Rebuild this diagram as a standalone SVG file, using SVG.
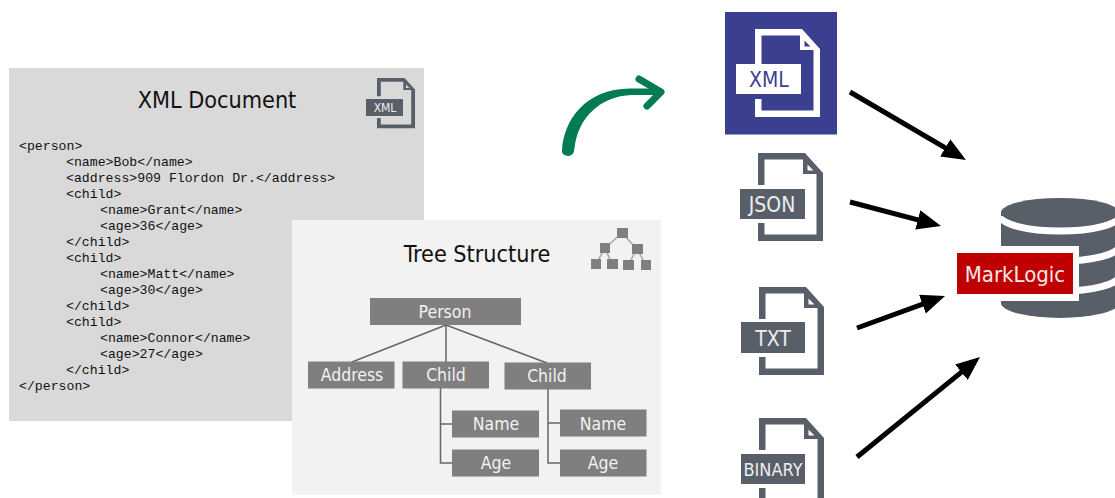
<svg xmlns="http://www.w3.org/2000/svg" width="1115" height="498" viewBox="0 0 1115 498">
<style>
text{font-family:"DejaVu Sans Condensed","DejaVu Sans",sans-serif;font-stretch:condensed}
.code{font-family:"Liberation Mono",monospace;font-size:13.2px;fill:#111;font-stretch:normal}
.title{font-size:23.200px;fill:#111;text-anchor:middle}
.box{fill:#7f7f7f}
.bl{font-size:17.500px;fill:#f2f2f2;text-anchor:middle}
.tl{fill:none;stroke:#666;stroke-width:1.5}
.ic{fill:#595f69}
.il{font-size:21px;fill:#eee;text-anchor:middle}
.ar{stroke:#000;stroke-width:5;fill:none;marker-end:url(#ah)}
.tq{fill:#7f7f7f}
.tb{stroke:#a6a6a6;stroke-width:1.5;fill:none}
</style>
<defs>
<marker id="ah" markerUnits="userSpaceOnUse" markerWidth="26" markerHeight="22" refX="12" refY="10" orient="auto"><path d="M0 0L24 10L0 20Z" fill="#000"/></marker>
<path id="doc" fill-rule="evenodd" d="M0 0H47L65 20V88H0V70H6.500V81.500H58.500V21H45V6.500H6.500V32H0ZM49.500 11.500V17.500H55.500Z"/>
</defs>
<g id="xml-document">
<rect x="9" y="68" width="415" height="353" fill="#d9d9d9"/>
<text class="title" x="217" y="108">XML Document</text>
<use href="#doc" class="ic" transform="translate(377 78) scale(.585 .57)"/>
<rect class="ic" x="366" y="99" width="37" height="17"/>
<text x="385" y="112" font-size="12" fill="#eee" text-anchor="middle">XML</text>
<text class="code" y="149.500"><tspan x="19">&lt;person&gt;</tspan><tspan x="66" y="165.500">&lt;name&gt;Bob&lt;/name&gt;</tspan><tspan x="66" y="181.500">&lt;address&gt;909 Flordon Dr.&lt;/address&gt;</tspan><tspan x="66" y="197.500">&lt;child&gt;</tspan><tspan x="100" y="213.500">&lt;name&gt;Grant&lt;/name&gt;</tspan><tspan x="100" y="229.500">&lt;age&gt;36&lt;/age&gt;</tspan><tspan x="66" y="245.500">&lt;/child&gt;</tspan><tspan x="66" y="261.500">&lt;child&gt;</tspan><tspan x="100" y="277.500">&lt;name&gt;Matt&lt;/name&gt;</tspan><tspan x="100" y="293.500">&lt;age&gt;30&lt;/age&gt;</tspan><tspan x="66" y="309.500">&lt;/child&gt;</tspan><tspan x="66" y="325.500">&lt;child&gt;</tspan><tspan x="100" y="341.500">&lt;name&gt;Connor&lt;/name&gt;</tspan><tspan x="100" y="357.500">&lt;age&gt;27&lt;/age&gt;</tspan><tspan x="66" y="373.500">&lt;/child&gt;</tspan><tspan x="19" y="389.500">&lt;/person&gt;</tspan></text>
</g>
<g id="tree-structure">
<rect x="292" y="220" width="369" height="275" fill="#f2f2f2"/>
<text class="title" x="477" y="262">Tree Structure</text>
<g id="tree-icon">
<path class="tb" d="M622 233L605 248M622 233L637 249M605 248L596 264M605 248L612 264M637 249L628 265M637 249L646 265"/>
<rect class="tq" x="617" y="228" width="11" height="10"/><rect class="tq" x="600" y="243" width="10" height="10"/><rect class="tq" x="632" y="244" width="11" height="10"/><rect class="tq" x="591" y="259" width="10" height="10"/><rect class="tq" x="607" y="259" width="11" height="10"/><rect class="tq" x="623" y="260" width="11" height="10"/><rect class="tq" x="641" y="260" width="10" height="10"/>
</g>
</g>
<g id="connectors">
<path class="tl" d="M446 325L352 362M446 325V362M446 325L547 363M440.500 388V463H452M440.500 424H452M548 389V463H560M548 423H560"/>
<path class="ar" d="M850 92L955.600 153.900"/>
<path class="ar" d="M850 202L929.400 222.900"/>
<path class="ar" d="M857 328L933.700 300.100"/>
<path class="ar" d="M857 457L970.700 364.600"/>
<path d="M562 150C564 120 585 89 630 88.500H655V95H632C600 96 578 118 574.500 148Q574 156 568 156Q561 155 562 150Z" fill="#047a55"/>
<path d="M639 79L661 92L647 106" fill="none" stroke="#047a55" stroke-width="7" stroke-linecap="round" stroke-linejoin="round"/>
</g>
<g id="n-person"><rect class="box" x="370" y="298" width="151" height="27"/><text class="bl" x="445" y="318">Person</text></g>
<g id="n-address"><rect class="box" x="308" y="361.500" width="86.500" height="27"/><text class="bl" x="352" y="381">Address</text></g>
<g id="n-child1"><rect class="box" x="402.500" y="361.500" width="86.500" height="27"/><text class="bl" x="446" y="381">Child</text></g>
<g id="n-child2"><rect class="box" x="504.500" y="362.500" width="86.500" height="27"/><text class="bl" x="547" y="382">Child</text></g>
<g id="n-name1"><rect class="box" x="452" y="410.500" width="87" height="27"/><text class="bl" x="496" y="430">Name</text></g>
<g id="n-age1"><rect class="box" x="452" y="449.500" width="87" height="27"/><text class="bl" x="496" y="469">Age</text></g>
<g id="n-name2"><rect class="box" x="560" y="409.500" width="86.500" height="27"/><text class="bl" x="603" y="430">Name</text></g>
<g id="n-age2"><rect class="box" x="560" y="449.500" width="86.500" height="27"/><text class="bl" x="603" y="469">Age</text></g>
<g id="n-xml">
<rect x="725" y="12" width="112" height="122.500" fill="#3a3f8f"/>
<use href="#doc" fill="#fff" transform="translate(755 29)"/>
<rect x="755" y="60" width="6.500" height="5" fill="#fff"/>
<rect x="736" y="64" width="65" height="30" fill="#fff"/>
<text x="769" y="87" font-size="21" fill="#3a3f8f" text-anchor="middle">XML</text>
</g>
<g id="n-json"><use href="#doc" class="ic" transform="translate(758 153)"/><rect class="ic" x="740" y="189" width="65" height="30"/><text class="il" x="772" y="212">JSON</text></g>
<g id="n-txt"><use href="#doc" class="ic" transform="translate(759 287)"/><rect class="ic" x="741" y="322" width="64" height="31"/><text x="773" y="346" font-size="21" fill="#eee" text-anchor="middle">TXT</text></g>
<g id="n-binary"><use href="#doc" class="ic" transform="translate(759 418)"/><rect class="ic" x="741" y="454" width="64" height="30"/><text x="773" y="476" font-size="18" fill="#eee" text-anchor="middle">BINARY</text></g>
<g id="n-marklogic">
<path class="ic" d="M1001 212V303A59 15 0 0 0 1119 303V212Z"/>
<path d="M1001 216A59 15 0 0 0 1119 216M1001 246A59 15 0 0 0 1119 246M1001 276A59 15 0 0 0 1119 276" fill="none" stroke="#fff" stroke-width="7"/>
<ellipse class="ic" cx="1060" cy="212.500" rx="59" ry="14.500"/>
<rect x="957" y="246" width="122" height="55" fill="#fff"/>
<rect x="957" y="253" width="116" height="41" fill="#c00000"/>
<text x="1015" y="282" font-size="22" fill="#f5e6e6" text-anchor="middle">MarkLogic</text>
</g>
</svg>
